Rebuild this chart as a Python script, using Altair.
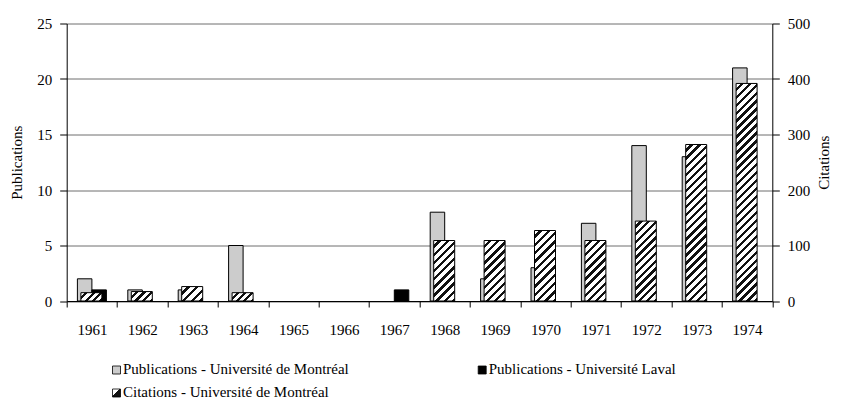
import altair as alt
import pandas as pd

# ---- data ----
years = [str(y) for y in range(1961, 1975)]
pubs_montreal = [2, 1, 1, 5, 0, 0, 0, 8, 2, 3, 7, 14, 13, 21]
pubs_laval = [1, 0, 0, 0, 0, 0, 1, 0, 0, 0, 0, 0, 0, 0]
cites_montreal = [15, 17, 26, 15, 0, 0, 0, 109, 109, 127, 109, 144, 282, 392]
series_names = [
    "Publications - Université de Montréal",
    "Publications - Université Laval",
    "Citations - Université de Montréal",
]
pub_ticks = [0, 5, 10, 15, 20, 25]
cit_ticks = [0, 100, 200, 300, 400, 500]

df = pd.DataFrame({"year": years, "pub_m": pubs_montreal,
                   "pub_l": pubs_laval, "cit_m": cites_montreal})
legend_df = pd.DataFrame({"series": series_names})

# ---- style ----
W, H = 705.6, 277.5
FONT = "Liberation Serif, Times New Roman, serif"
FS = 15
GREY = "#cccccc"
BAR_W = 14.5
HATCH_W = 21
CIT_MAX = 500


def hatch(h, w=HATCH_W, period=8.0, dark=0.42):
    """Diagonal '/' stripe gradient for a bar of w x h pixels."""
    n = max(1, round((w + h) / period))
    t = (w + h) / (w * w + h * h)
    stops = []
    for i in range(n):
        a, b, c = i / n, (i + 1 - dark) / n, (i + 1) / n
        stops += [{"offset": a, "color": "white"}, {"offset": b, "color": "white"},
                  {"offset": b, "color": "#111111"}, {"offset": c, "color": "#111111"}]
    return {"gradient": "linear", "x1": 0, "y1": 0, "x2": t * w, "y2": t * h, "stops": stops}


x_enc = alt.X(
    "year:O",
    scale=alt.Scale(domain=years, paddingInner=0, paddingOuter=0),
    axis=alt.Axis(title=None, labelAngle=0, tickBand="extent", tickSize=6,
                  labelPadding=15, domainColor="black", tickColor="black",
                  labelColor="black", labelFont=FONT, labelFontSize=FS),
)

pub_axis = alt.Axis(title="Publications", values=pub_ticks, grid=True, gridColor="#6e6e6e",
                    tickSize=7, labelPadding=8, domainColor="black", tickColor="black",
                    labelColor="black", labelFont=FONT, labelFontSize=FS,
                    titleFont=FONT, titleFontSize=FS, titleFontWeight="normal",
                    titleColor="black", titleX=-50.5, titleY=H / 2, titleAngle=270,
                    titleAlign="center", titleBaseline="middle")
pub_scale = alt.Scale(domain=[0, 25])

cit_axis = alt.Axis(title="Citations", orient="right", values=cit_ticks, grid=False,
                    tickSize=7, labelPadding=8, domainColor="black", tickColor="black",
                    labelColor="black", labelFont=FONT, labelFontSize=FS,
                    titleFont=FONT, titleFontSize=FS, titleFontWeight="normal",
                    titleColor="black", titleX=51.5, titleY=H / 2, titleAngle=270,
                    titleAlign="center", titleBaseline="middle")
cit_scale = alt.Scale(domain=[0, CIT_MAX])

base = alt.Chart(df)

grey_bars = base.mark_bar(width=BAR_W, xOffset=-BAR_W / 2, fill=GREY, stroke="black",
                          strokeWidth=1).encode(
    x=x_enc, y=alt.Y("pub_m:Q", scale=pub_scale, axis=pub_axis)
).transform_filter("datum.pub_m > 0")

black_bars = base.mark_bar(width=BAR_W, xOffset=BAR_W / 2, fill="black", stroke="black",
                           strokeWidth=1).encode(
    x=x_enc, y=alt.Y("pub_l:Q", scale=pub_scale, axis=pub_axis)
).transform_filter("datum.pub_l > 0")

# ---- manual legend ----
leg_sq = [(49.8, 346.5), (415.5, 346.5), (49.8, 369.5)]
leg_fill = [GREY, "black",
            {"gradient": "linear", "x1": 0, "y1": 0, "x2": 1, "y2": 1,
             "stops": [{"offset": 0, "color": "white"}, {"offset": 0.45, "color": "white"},
                       {"offset": 0.45, "color": "#111111"}, {"offset": 1, "color": "#111111"}]}]
legend_layers = []
for i, name in enumerate(series_names):
    sx, sy = leg_sq[i]
    src = alt.Chart(legend_df).transform_filter(alt.datum.series == name)
    legend_layers.append(
        src.mark_square(size=64, fill=leg_fill[i], stroke="black", strokeWidth=0.8,
                        opacity=1).encode(x=alt.value(sx), y=alt.value(sy))
    )
    legend_layers.append(
        src.mark_text(align="left", baseline="alphabetic", font=FONT, fontSize=FS,
                      color="black").encode(x=alt.value(sx + 6.5), y=alt.value(sy + 4),
                                            text="series:N")
    )

pub_group = alt.layer(grey_bars, black_bars, *legend_layers)

cit_layers = []
for yr, c in zip(years, cites_montreal):
    if c <= 0:
        continue
    h = c * H / CIT_MAX
    cit_layers.append(
        base.mark_bar(width=HATCH_W, xOffset=-0.5, fill=hatch(h), stroke="black",
                      strokeWidth=1).encode(
            x=x_enc, y=alt.Y("cit_m:Q", scale=cit_scale, axis=cit_axis)
        ).transform_filter(alt.datum.year == yr)
    )
cit_group = alt.layer(*cit_layers)

chart = alt.layer(pub_group, cit_group).resolve_scale(y="independent").properties(
    width=W, height=H,
    padding={"left": 58.7, "top": 15.5, "right": 60.7, "bottom": 99},
    autosize=alt.AutoSizeParams(type="none"),
    background="white",
).configure_view(stroke=None)

chart.save("out.html", embed_options={"renderer": "svg", "actions": False})
